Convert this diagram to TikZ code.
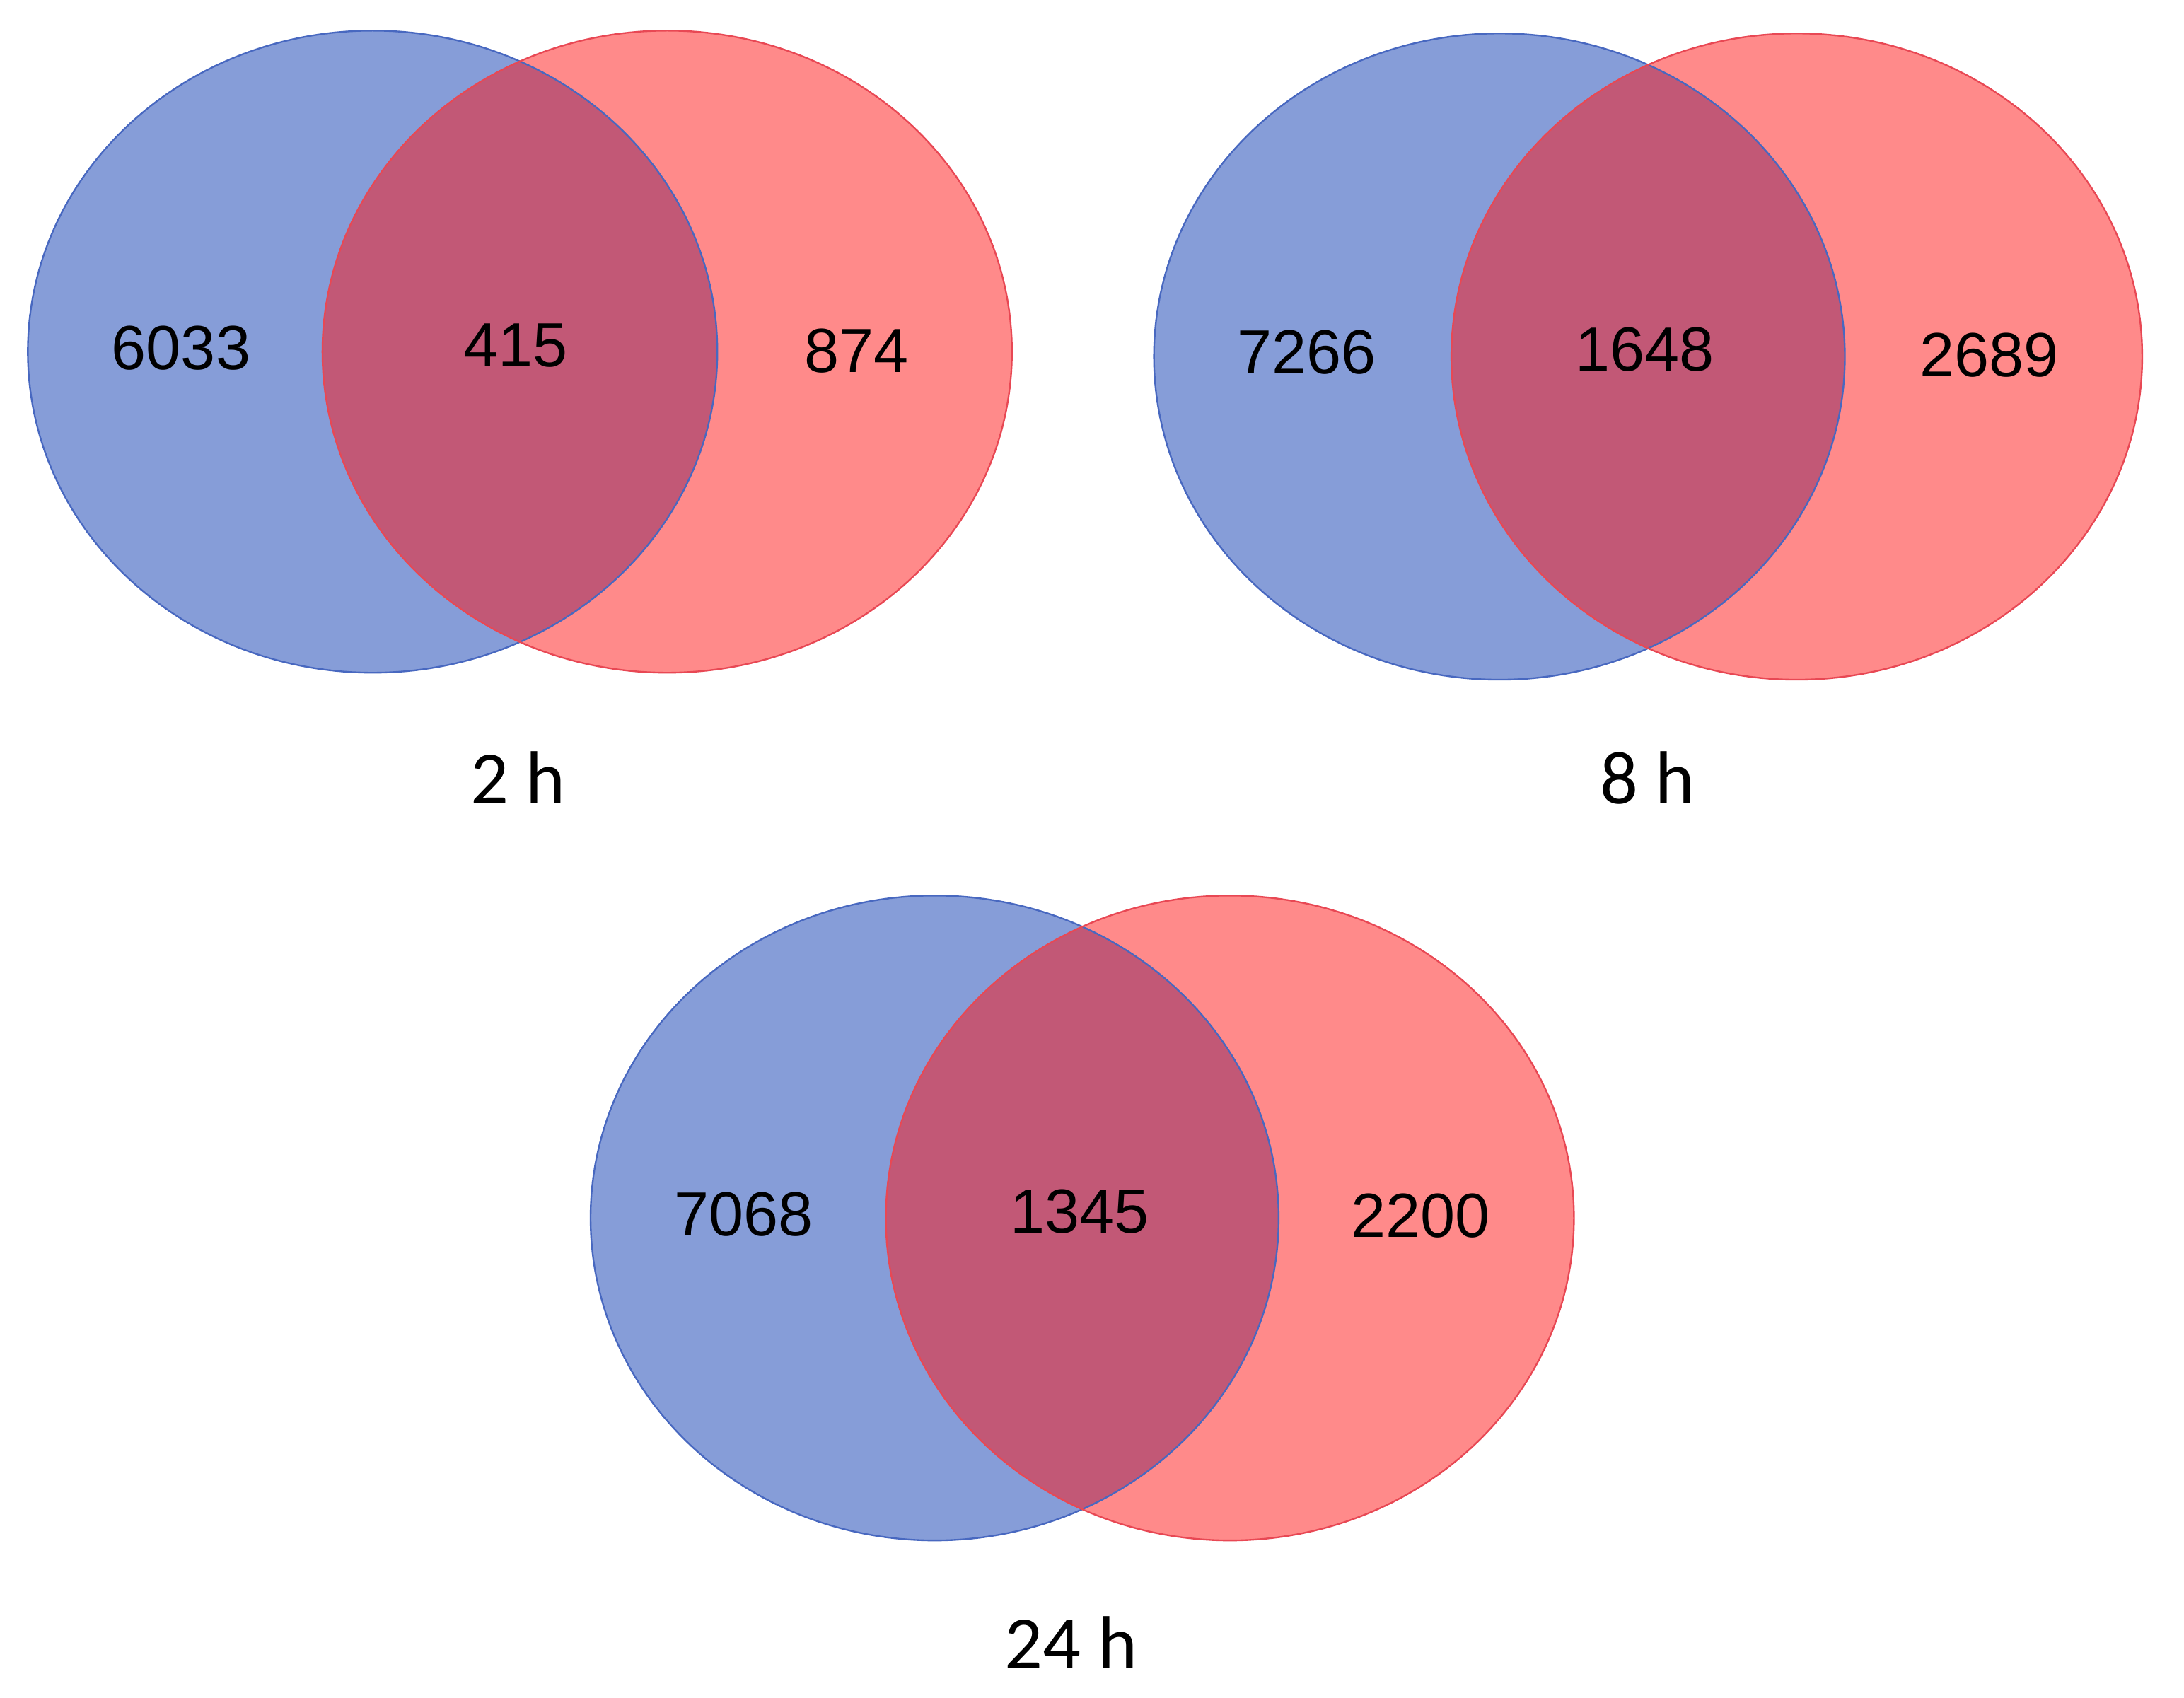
\documentclass[tikz,border=0pt]{standalone}
\usepackage{fontspec}
\setmainfont{Liberation Sans}
\newfontfamily\labfont{Carlito}
\definecolor{bfill}{RGB}{134,157,216}
\definecolor{bline}{RGB}{72,104,192}
\definecolor{rfill}{RGB}{255,138,138}
\definecolor{rline}{RGB}{232,72,84}
\definecolor{ifill}{RGB}{194,88,118}
\tikzset{
  numlabel/.style={inner sep=0pt, font=\fontsize{22.4}{26}\selectfont},
  timelabel/.style={inner sep=0pt, anchor=base, font=\labfont\fontsize{27}{32}\selectfont},
  setline/.style={line width=0.6pt}
}
\newcommand{\myvenn}[5]{%
  \fill[bfill] (#1,#3) ellipse [x radius=#4, y radius=#5];
  \fill[rfill] (#2,#3) ellipse [x radius=#4, y radius=#5];
  \begin{scope}
    \clip (#1,#3) ellipse [x radius=#4, y radius=#5];
    \fill[ifill] (#2,#3) ellipse [x radius=#4, y radius=#5];
  \end{scope}
  \draw[bline, setline] (#1,#3) ellipse [x radius=#4, y radius=#5];
  \draw[rline, setline] (#2,#3) ellipse [x radius=#4, y radius=#5];
}
\begin{document}
\begin{tikzpicture}[x=0.5pt, y=-0.5pt]
  \fill[white] (0,0) rectangle (1568,1219);
  \useasboundingbox (0,0) rectangle (1568,1219);
  % 2 h
  \myvenn{267.5}{479}{252.5}{247.5}{230.5}
  \node[numlabel] (a1) at (130,250) {6033};
  \node[numlabel] (a2) at (370,248) {415};
  \node[numlabel] (a3) at (615,252) {874};
  \node[timelabel] (ta) at (372,577) {2 h};
  % 8 h
  \myvenn{1076.5}{1290}{256}{248}{232}
  \node[numlabel] (b1) at (938,253) {7266};
  \node[numlabel] (b2) at (1181,251) {1648};
  \node[numlabel] (b3) at (1428,255) {2689};
  \node[timelabel] (tb) at (1183,577) {8 h};
  % 24 h
  \myvenn{671}{883}{874.5}{247}{231.5}
  \node[numlabel] (c1) at (534,872) {7068};
  \node[numlabel] (c2) at (775,870) {1345};
  \node[numlabel] (c3) at (1020,873) {2200};
  \node[timelabel] (tc) at (769,1198) {24 h};
\end{tikzpicture}
\end{document}
